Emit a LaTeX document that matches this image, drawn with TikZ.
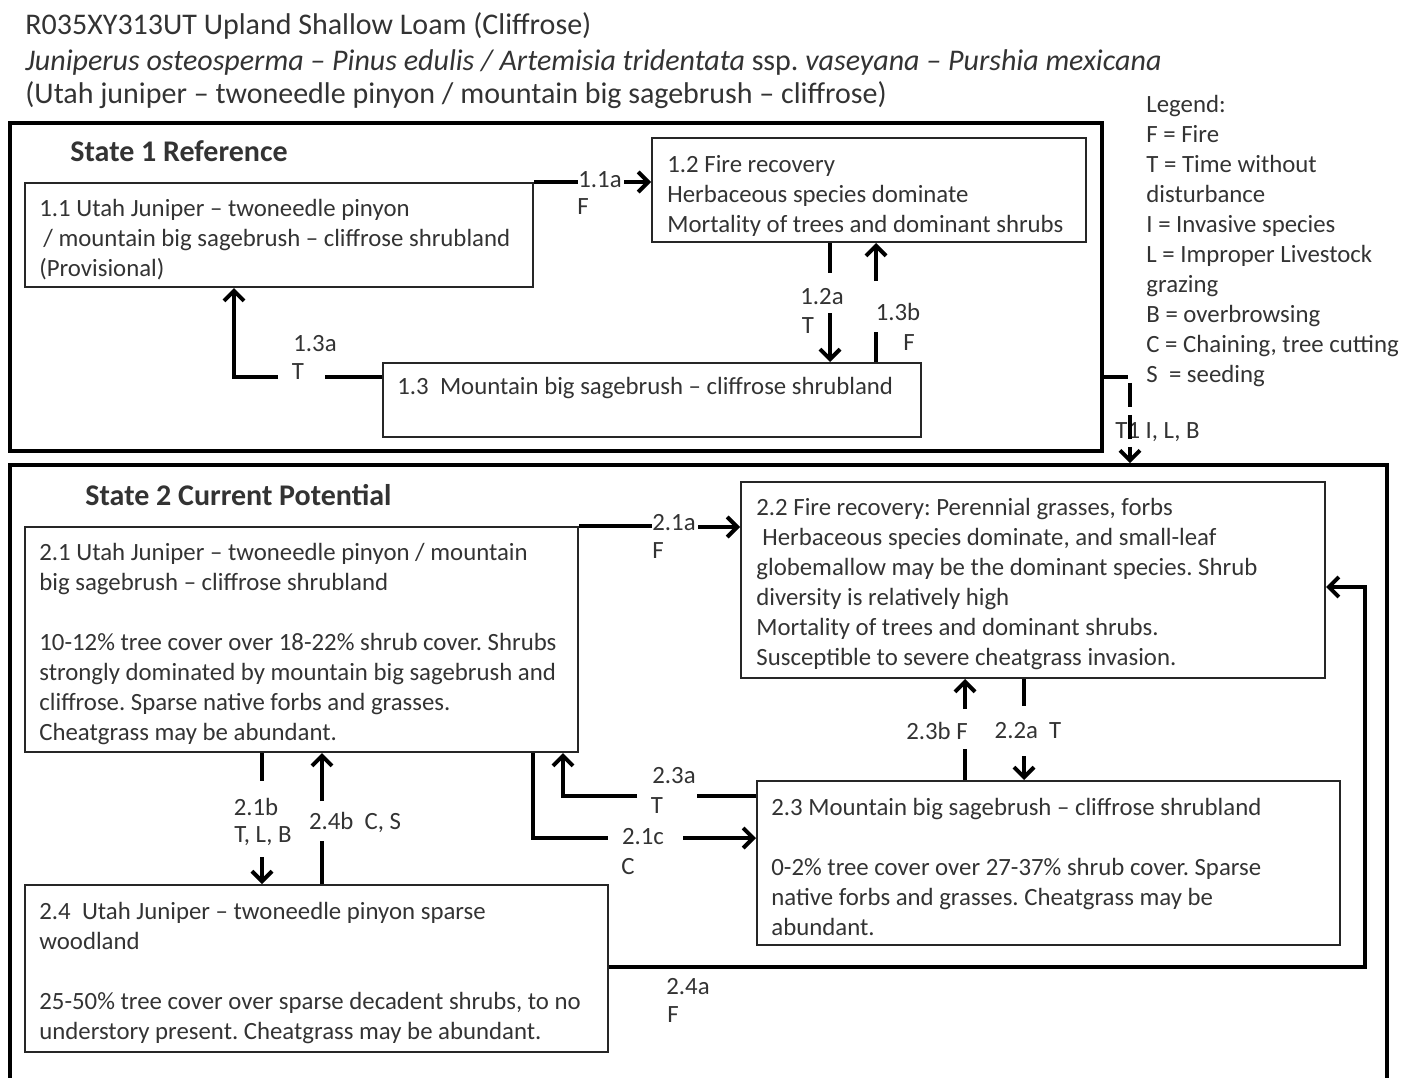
\documentclass[tikz,border=0pt]{standalone}
\usepackage{fontspec}
\setmainfont{Carlito}
\usetikzlibrary{arrows.meta}
\usetikzlibrary{positioning}
\usetikzlibrary{fit}
\usetikzlibrary{calc}
\frenchspacing

\begin{document}
\begin{tikzpicture}[x=0.5pt,y=-0.5pt,
  every node/.style={font=\fontsize{12.4}{15}\selectfont, text=black!80},
  ttl/.style={font=\fontsize{15}{15}\selectfont},
  frame/.style={draw, line width=1.8pt, inner sep=0pt},
  sbox/.style={draw=black!85, line width=1pt, inner sep=0pt},
  txt/.style={anchor=north west, align=left, inner sep=0pt},
  lbl/.style={anchor=west, inner sep=0pt},
  tr/.style={line width=2pt},
  tra/.style={line width=2pt, -{Straight Barb[length=5pt,width=10pt]}},
]
\useasboundingbox (0,0) rectangle (1416,1077);

% titles
\node[lbl,ttl] (ttl1) at (25,26) {R035XY313UT Upland Shallow Loam (Cliffrose)};
\node[lbl,ttl] (ttl2) at (25,62) {\itshape Juniperus osteosperma – Pinus edulis / Artemisia tridentata \upshape ssp. \itshape vaseyana – Purshia mexicana};
\node[lbl,ttl] (ttl3) at (25,95) {(Utah juniper – twoneedle pinyon / mountain big sagebrush – cliffrose)};

% legend
\node[txt] (leg) at (1146,95) {Legend:\\F = Fire\\T = Time without\\disturbance\\I = Invasive species\\L = Improper Livestock\\grazing\\B = overbrowsing\\C = Chaining, tree cutting\\S \ = seeding};

% state frames
\node[frame, fit={(10,123) (1102,451)}] (s1) {};
\node[frame, fit={(10,465) (1387,1090)}] (s2) {};
\node[lbl, font=\fontsize{15}{15}\selectfont\bfseries] (s1t) at (70,151) {State 1 Reference};
\node[lbl, font=\fontsize{15}{15}\selectfont\bfseries] (s2t) at (85,495) {State 2 Current Potential};

% state 1 boxes
\node[sbox, fit={(25,183) (533,287)}] (b11) {};
\node[txt] (t11) at ($(b11.north west)+(15,17)$) {1.1 Utah Juniper – twoneedle pinyon\\\hspace{2pt}/ mountain big sagebrush – cliffrose shrubland\\(Provisional)};
\node[sbox, fit={(652,138) (1086,242)}] (b12) {};
\node[txt] (t12) at ($(b12.north west)+(16,18)$) {1.2 Fire recovery\\Herbaceous species dominate\\Mortality of trees and dominant shrubs};
\node[sbox, fit={(383,363) (921,437)}] (b13) {};
\node[txt] (t13) at ($(b13.north west)+(15,15)$) {1.3\ \ Mountain big sagebrush – cliffrose shrubland};

% state 2 boxes
\node[sbox, fit={(25,527) (578,752)}] (b21) {};
\node[txt] (t21) at ($(b21.north west)+(15,17)$) {2.1 Utah Juniper – twoneedle pinyon / mountain\\big sagebrush – cliffrose shrubland\\[15pt]10-12\% tree cover over 18-22\% shrub cover. Shrubs\\strongly dominated by mountain big sagebrush and\\cliffrose. Sparse native forbs and grasses.\\Cheatgrass may be abundant.};
\node[sbox, fit={(741,482) (1325,678)}] (b22) {};
\node[txt] (t22) at ($(b22.north west)+(16,17)$) {2.2 Fire recovery: Perennial grasses, forbs\\\hspace{3pt}Herbaceous species dominate, and small-leaf\\globemallow may be the dominant species. Shrub\\diversity is relatively high\\Mortality of trees and dominant shrubs.\\Susceptible to severe cheatgrass invasion.};
\node[sbox, fit={(757,781) (1340,945)}] (b23) {};
\node[txt] (t23) at ($(b23.north west)+(15,18)$) {2.3 Mountain big sagebrush – cliffrose shrubland\\[15pt]0-2\% tree cover over 27-37\% shrub cover. Sparse\\native forbs and grasses. Cheatgrass may be\\abundant.};
\node[sbox, fit={(25,885) (608,1052)}] (b24) {};
\node[txt] (t24) at ($(b24.north west)+(15,18)$) {2.4\ \ Utah Juniper – twoneedle pinyon sparse\\woodland\\[15pt]25-50\% tree cover over sparse decadent shrubs, to no\\understory present. Cheatgrass may be abundant.};

% transition labels
\node[lbl] (l11a) at (578,180) {1.1a};
\node[lbl] (l11aF) at (577,207) {F};
\node (l12a) at (822,297) {1.2a};
\node (l12aT) at (808,326) {T};
\node (l13b) at (898,312) {1.3b};
\node (l13bF) at (909,343) {F};
\node (l13a) at (315,344) {1.3a};
\node (l13aT) at (298,372) {T};
\node[lbl] (lT1) at (1115,432) {T1 I, L, B};
\node[lbl] (l21a) at (652,523) {2.1a};
\node[lbl] (l21aF) at (652,551) {F};
\node (l21b) at (256,807) {2.1b};
\node (l21bT) at (263,836) {T, L, B};
\node (l24b) at (355,822) {2.4b\ \ C, S};
\node (l23a) at (674,776) {2.3a};
\node (l23aT) at (657,806) {T};
\node (l21c) at (643,837) {2.1c};
\node (l21cC) at (628,867) {C};
\node (l23b) at (937,731) {2.3b F};
\node (l22a) at (1028,731) {2.2a\ \ T};
\node (l24a) at (688,987) {2.4a};
\node (l24aF) at (673,1015) {F};

% bend points
\coordinate (p11a) at ($(l11a.east)+(2,2)$);
\coordinate (p21a) at ($(l21a.east)+(2,4)$);
\coordinate (c13a) at (234,377);
\coordinate (cT1) at (1130,377);
\coordinate (c23a) at (563,796);
\coordinate (c21c) at (533,838);
\coordinate (c24a) at (1365,967);
\coordinate (c24b) at (1365,587);

% state 1 transitions
\draw[tr] (b11.north east) -- (b11.north east -| l11a.west);
\draw[tra] (p11a) -- (p11a -| b12.west);
\draw[tr] ($(b12.south west)+(179,0)$) -- ++(0,30);
\draw[tra] ($(b13.north west)+(448,-49)$) -- ($(b13.north west)+(448,0)$);
\draw[tra] ($(b12.south west)+(225,38)$) -- ($(b12.south west)+(225,0)$);
\draw[tr] ($(b13.north west)+(494,-30)$) -- ($(b13.north west)+(494,0)$);
\draw[tr] (b13.west |- c13a) -- ($(c13a)+(91,0)$);
\draw[tra] ($(c13a)+(44,0)$) -- (c13a) -- (c13a |- b11.south);
\draw[tra, dash pattern=on 12pt off 4pt] (s1.east |- cT1) -- (cT1) -- (cT1 |- s2.north);

% state 2 transitions
\draw[tr] (b21.north east) -- (b21.north east -| l21a.west);
\draw[tra] (p21a) -- (p21a -| b22.west);
\draw[tr] ($(b21.south west)+(238,0)$) -- ++(0,28);
\draw[tra] ($(b24.north west)+(238,-27)$) -- ($(b24.north west)+(238,0)$);
\draw[tr] ($(b24.north west)+(298,0)$) -- ++(0,-43);
\draw[tra] ($(b21.south west)+(298,48)$) -- ($(b21.south west)+(298,0)$);
\draw[tr] (b23.west |- c23a) -- ($(c23a)+(134,0)$);
\draw[tra] ($(c23a)+(74,0)$) -- (c23a) -- (c23a |- b21.south);
\draw[tr] (c21c |- b21.south) -- (c21c) -- ($(c21c)+(75,0)$);
\draw[tra] ($(c21c)+(150,0)$) -- (c21c -| b23.west);
\draw[tr] ($(b23.north west)+(209,0)$) -- ++(0,-31);
\draw[tra] ($(b22.south west)+(225,30)$) -- ($(b22.south west)+(225,0)$);
\draw[tr] ($(b22.south west)+(284,0)$) -- ++(0,27);
\draw[tra] ($(b23.north west)+(268,-24)$) -- ($(b23.north west)+(268,0)$);
\draw[tra] (b24.east |- c24a) -- (c24a) -- (c24b) -- (c24b -| b22.east);
\end{tikzpicture}
\end{document}
